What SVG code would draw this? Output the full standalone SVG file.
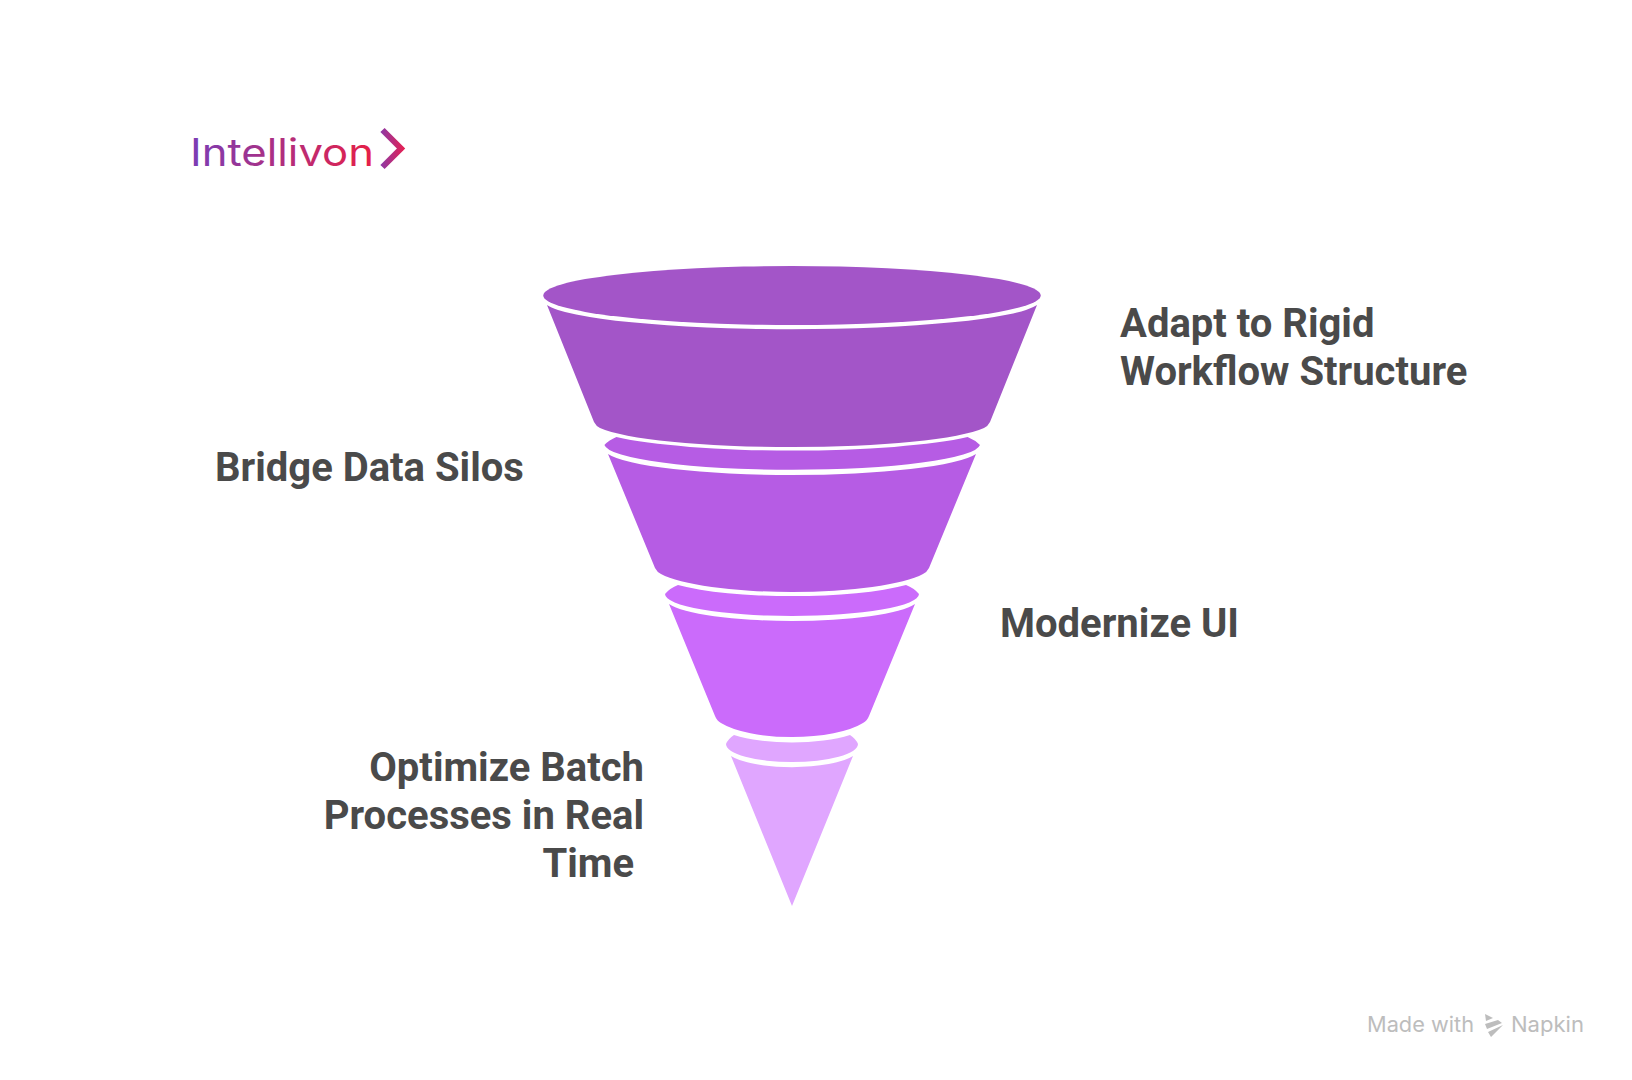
<svg xmlns="http://www.w3.org/2000/svg" width="1632" height="1080" viewBox="0 0 1632 1080">
<style>
.lab{font-family:Roboto,"Liberation Sans",sans-serif;font-weight:700;font-size:40px;fill:#4a4a4a}
.end{text-anchor:end}
.wm{font-family:Inter,Roboto,sans-serif;font-size:21px;fill:#bdbdbd}
.logo{font-family:Inter,"Noto Sans",sans-serif;font-size:38px}
</style>
<defs>
<linearGradient id="lg" gradientUnits="userSpaceOnUse" x1="190" y1="0" x2="376" y2="0"><stop offset="0" stop-color="#7a3db5"/><stop offset="1" stop-color="#e81f45"/></linearGradient>
<linearGradient id="cg" gradientUnits="userSpaceOnUse" x1="380" y1="0" x2="405" y2="0"><stop offset="0" stop-color="#8a3aa8"/><stop offset="1" stop-color="#e81f50"/></linearGradient>
</defs>
<rect width="1632" height="1080" fill="#fff"/>
<g id="logo">
<text class="logo" x="190" y="166" fill="url(#lg)" textLength="184" lengthAdjust="spacingAndGlyphs">Intellivon</text>
<path d="M382.500 130L401 148.500L382.500 167" fill="none" stroke="url(#cg)" stroke-width="6"/>
</g>
<g id="segment-1">
<ellipse cx="792" cy="295.500" rx="248.700" ry="29.500" fill="#a355c8"/>
<path d="M547 305A248.500 29 0 0 0 1037 305L990 422Q988 426 984 428A200 26.400 0 0 1 600 428Q596 426 594 422Z" fill="#a355c8"/>
</g>
<g id="segment-2">
<path d="M604.400 445Q609 440 616.400 437A200 26 0 0 0 967.600 437Q975 440 980 445A188 26 0 0 1 604.400 445Z" fill="#b65ce4"/>
<path d="M608 454A188 26.400 0 0 0 976 454L929 568Q927 572 923 574A139 27 0 0 1 661 574Q657 572 655 568Z" fill="#b65ce4"/>
</g>
<g id="segment-3">
<path d="M665 594Q670 588 678 585A139 26 0 0 0 906 585Q914 588 919 594A127 22 0 0 1 665 594Z" fill="#cb6bfb"/>
<path d="M669 604A127 22.600 0 0 0 915 604L869 716Q867 721 863 723A80 26 0 0 1 721 723Q717 721 715 716Z" fill="#cb6bfb"/>
</g>
<g id="segment-4">
<path d="M726 744Q728 739 734 735A80 24 0 0 0 850 735Q856 739 858 744A66 18 0 0 1 726 744Z" fill="#e0a6ff"/>
<path d="M731 756A66 18 0 0 0 853 756L792 906Z" fill="#e0a6ff"/>
</g>
<g id="label-1" class="lab">
<text x="1120" y="337">Adapt to Rigid</text>
<text x="1120" y="385">Workflow Structure</text>
</g>
<g id="label-2" class="lab"><text x="215" y="481">Bridge Data Silos</text></g>
<g id="label-3" class="lab"><text x="1000" y="637">Modernize UI</text></g>
<g id="label-4" class="lab">
<text class="end" x="644" y="781">Optimize Batch</text>
<text class="end" x="644" y="829">Processes in Real</text>
<text class="end" x="634" y="877">Time</text>
</g>
<g id="watermark">
<text class="wm" x="1367" y="1032" textLength="107" lengthAdjust="spacingAndGlyphs">Made with</text>
<path d="M1485 1014L1493 1018L1486 1021ZM1485 1024L1498 1020L1502 1023L1487 1029ZM1488 1032L1503 1025L1491 1037Z" fill="#bdbdbd"/>
<text class="wm" x="1511" y="1032" textLength="73" lengthAdjust="spacingAndGlyphs">Napkin</text>
</g>
</svg>
